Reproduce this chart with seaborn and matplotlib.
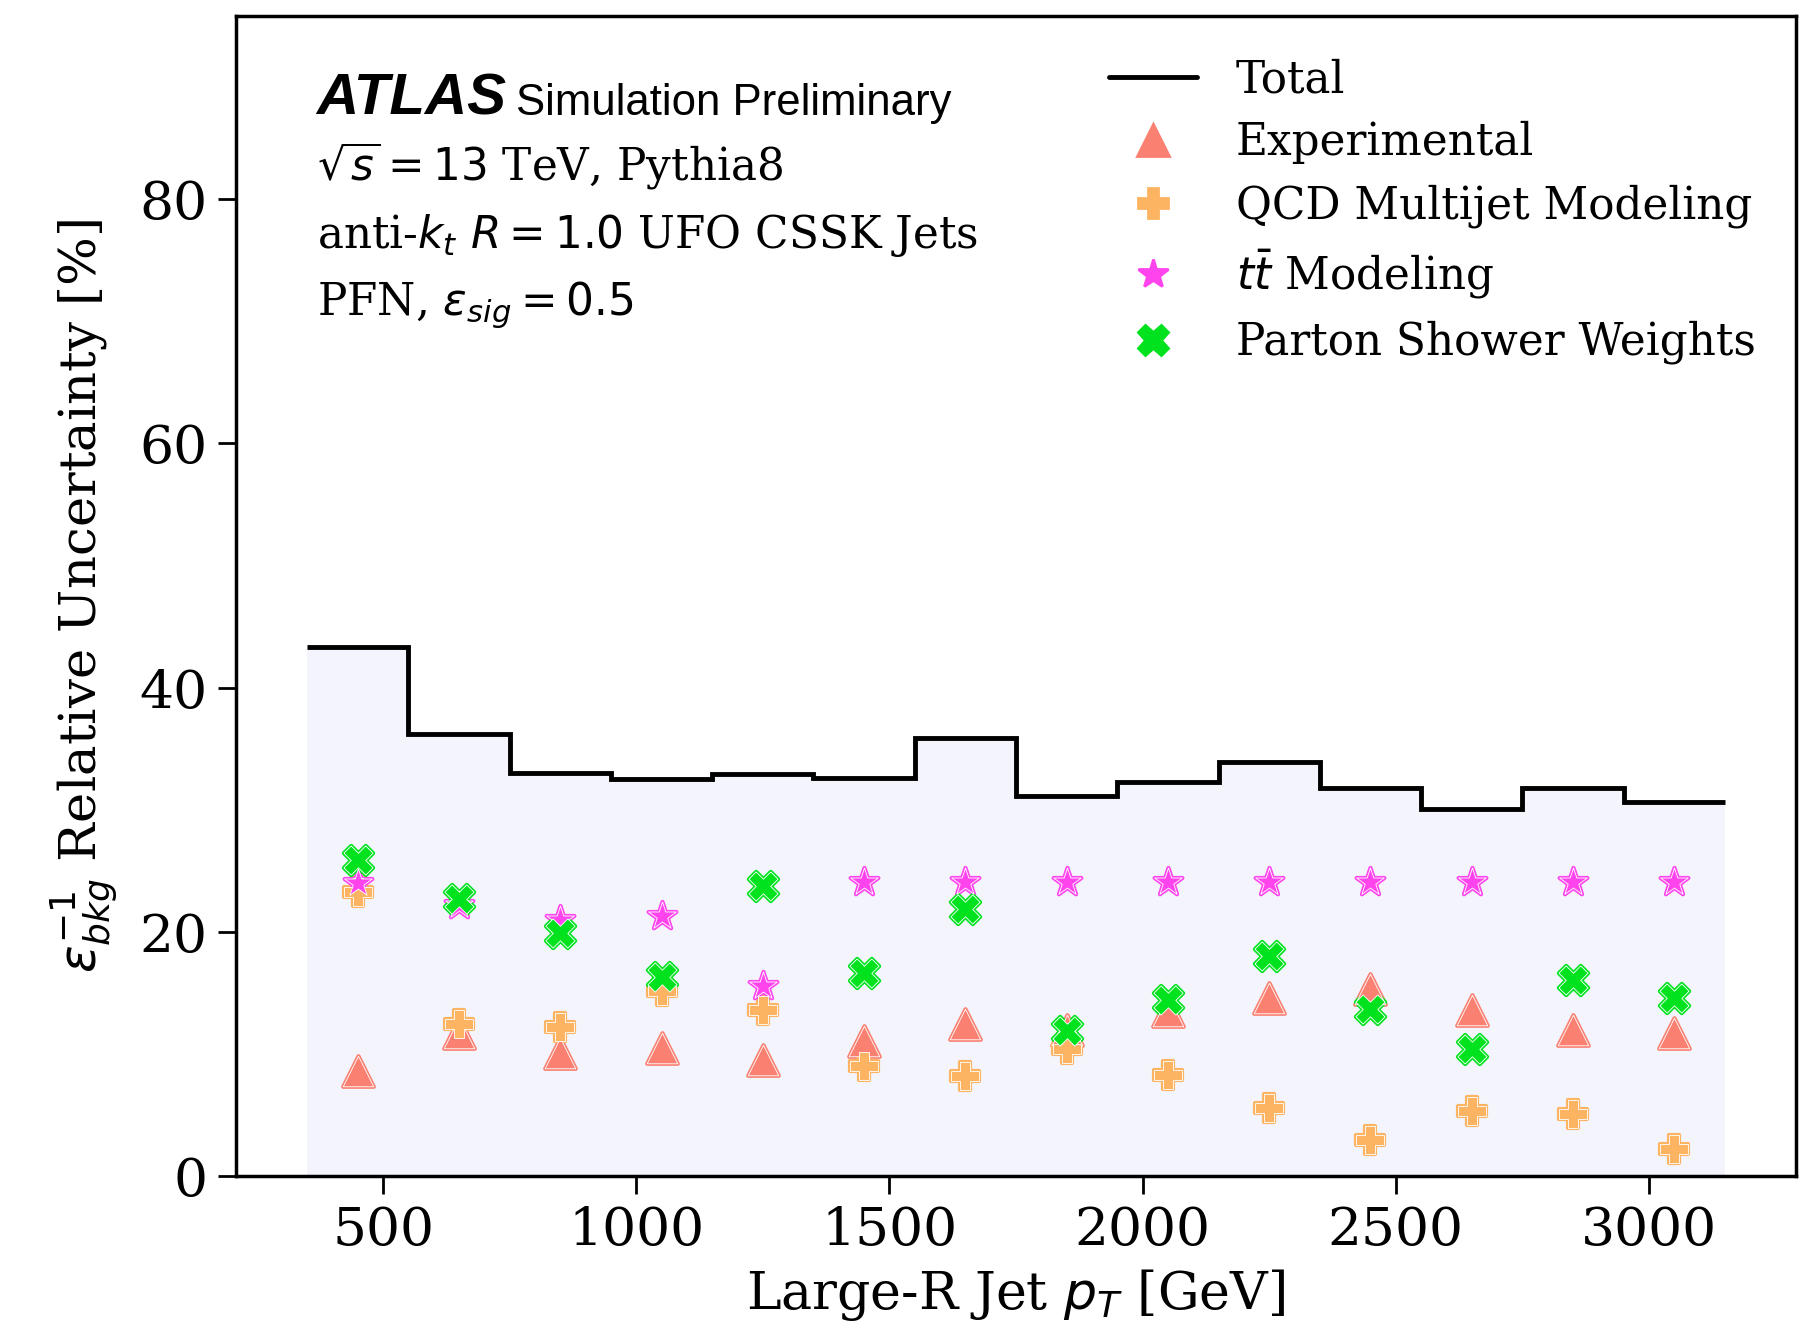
import numpy as np
import pandas as pd
import matplotlib
matplotlib.use("Agg")
import matplotlib.pyplot as plt
from matplotlib.lines import Line2D
import seaborn as sns

# ---- data ----
bin_edges = [350, 550, 750, 950, 1150, 1350, 1550, 1750, 1950, 2150, 2350, 2550, 2750, 2950, 3150]
pt_centers = [450, 650, 850, 1050, 1250, 1450, 1650, 1850, 2050, 2250, 2450, 2650, 2850, 3050]
total = [43.3, 36.2, 33.0, 32.5, 32.9, 32.6, 35.9, 31.1, 32.3, 33.9, 31.8, 30.1, 31.8, 30.6]
experimental = [8.6, 11.7, 10.1, 10.5, 9.5, 11.1, 12.5, 12.0, 13.5, 14.6, 15.3, 13.6, 12.0, 11.7]
qcd_multijet = [23.3, 12.5, 12.2, 15.2, 13.6, 9.0, 8.2, 10.4, 8.3, 5.6, 3.0, 5.3, 5.1, 2.2]
ttbar = [24.0, 22.2, 21.0, 21.3, 15.6, 24.1, 24.1, 24.1, 24.1, 24.1, 24.1, 24.1, 24.1, 24.1]
parton_shower = [25.9, 22.7, 19.9, 16.3, 23.8, 16.6, 21.9, 11.9, 14.4, 18.0, 13.7, 10.4, 16.1, 14.6]

series_labels = ["Experimental", "QCD Multijet Modeling", r"$t\bar{t}$ Modeling", "Parton Shower Weights"]
series_values = [experimental, qcd_multijet, ttbar, parton_shower]
series_markers = ["^", "P", "*", "X"]
series_colors = ["#FA8072", "#FDB462", "#FF44EE", "#00E21E"]
series_sizes = [22, 20, 21, 21]

x_ticks = [500, 1000, 1500, 2000, 2500, 3000]
y_ticks = [0, 20, 40, 60, 80]

# ---- style ----
sns.set_style("ticks")
plt.rcParams["font.family"] = ["DejaVu Serif"]
plt.rcParams["mathtext.fontset"] = "dejavusans"
plt.rcParams["text.color"] = "black"
plt.rcParams["axes.labelcolor"] = "black"
plt.rcParams["xtick.color"] = "black"
plt.rcParams["ytick.color"] = "black"
plt.rcParams["axes.edgecolor"] = "black"

fig = plt.figure(figsize=(18.03, 13.29), dpi=100)
ax = fig.add_axes([0.131, 0.115, 0.865, 0.873])

# filled step + black outline (no end verticals)
ax.stairs(total, bin_edges, fill=True, color="#F3F4FC", zorder=1)
ax.stairs(total, bin_edges, baseline=None, color="black", linewidth=3.5, zorder=2)

handles = [Line2D([], [], color="black", linewidth=3.5)]
for lab, vals, mk, col, ms in zip(series_labels, series_values, series_markers, series_colors, series_sizes):
    df = pd.DataFrame({"pt": pt_centers, "unc": vals})
    sns.scatterplot(data=df, x="pt", y="unc", marker=mk, s=ms ** 2, color=col,
                    edgecolor=col, linewidth=3.0, ax=ax, zorder=3, legend=False)
    sns.scatterplot(data=df, x="pt", y="unc", marker=mk, s=ms ** 2, color=col,
                    edgecolor="white", linewidth=0.6, ax=ax, zorder=4, legend=False)
    handles.append(Line2D([], [], linestyle="none", marker=mk, markersize=ms * 1.05,
                          markerfacecolor=col, markeredgecolor=col, markeredgewidth=2.0))

ax.legend(handles, ["Total"] + series_labels, loc="upper right", frameon=False,
          fontsize=31.5, handlelength=2.0, handletextpad=0.9, labelspacing=0.45,
          bbox_to_anchor=(0.994, 0.99), borderaxespad=0.3)

ax.set_xlim(210, 3290)
ax.set_ylim(0, 95)
ax.set_xticks(x_ticks)
ax.set_yticks(y_ticks)
ax.tick_params(axis="both", direction="out", length=13, width=2, labelsize=38.5, pad=8)
for sp in ax.spines.values():
    sp.set_linewidth(2.5)

ax.set_xlabel(r"Large-R Jet $p_T$ [GeV]", fontsize=37.5, labelpad=8)
ax.set_ylabel(r"$\varepsilon_{bkg}^{-1}$ Relative Uncertainty [%]", fontsize=37, labelpad=14)

# ATLAS label
t = ax.text(0.0516, 0.915, "ATLAS", transform=ax.transAxes, fontsize=42,
            fontweight="bold", fontstyle="italic", family="Liberation Sans", va="baseline")
fig.canvas.draw()
bb = t.get_window_extent().transformed(ax.transAxes.inverted())
ax.text(bb.x1 + 0.006, 0.915, "Simulation Preliminary", transform=ax.transAxes,
        fontsize=31.5, family="Liberation Sans", va="baseline")
ax.text(0.0516, 0.858, r"$\sqrt{s}=13$ TeV, Pythia8", transform=ax.transAxes, fontsize=31.5, va="baseline")
ax.text(0.0516, 0.800, r"anti-$k_t$ $R=1.0$ UFO CSSK Jets", transform=ax.transAxes, fontsize=31.5, va="baseline")
ax.text(0.0516, 0.742, r"PFN, $\varepsilon_{sig}=0.5$", transform=ax.transAxes, fontsize=31.5, va="baseline")

fig.savefig("out.png", dpi=100)
